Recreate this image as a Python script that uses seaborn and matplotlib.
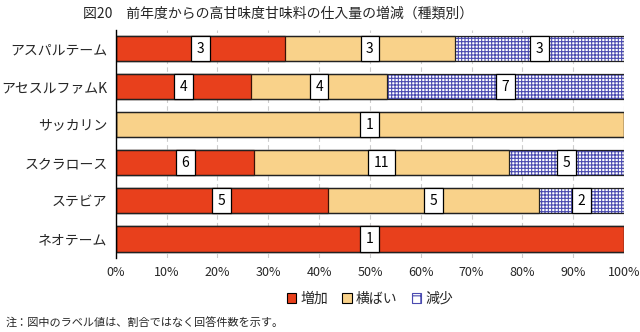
import matplotlib
matplotlib.use("Agg")
import matplotlib.pyplot as plt
import matplotlib.patches as mpatches
import numpy as np
import pandas as pd
import seaborn as sns

categories = ["アスパルテーム", "アセスルファムK", "サッカリン", "スクラロース", "ステビア", "ネオテーム"]
increase = [3, 4, 0, 6, 5, 1]
flat = [3, 4, 1, 11, 5, 0]
decrease = [3, 7, 0, 5, 2, 0]
series_names = ["増加", "横ばい", "減少"]
xticks = [0, 10, 20, 30, 40, 50, 60, 70, 80, 90, 100]
title = "図20　前年度からの高甘味度甘味料の仕入量の増減（種類別）"
note = "注：図中のラベル値は、割合ではなく回答件数を示す。"

RED = "#e8401c"
YEL = "#f9d28a"
BLUE = "#4a4ab0"

sns.set_theme(style="white")
plt.rcParams['font.family'] = ['Noto Sans CJK JP', 'DejaVu Sans']
plt.rcParams['hatch.linewidth'] = 0.8

inc = np.array(increase, float)
fl = np.array(flat, float)
de = np.array(decrease, float)
tot = inc + fl + de
p_inc = inc / tot * 100
p_fl = fl / tot * 100
p_de = de / tot * 100
cum1 = p_inc
cum2 = p_inc + p_fl
cum3 = cum2 + p_de

df = pd.DataFrame({"cat": categories, "c1": cum1, "c2": cum2, "c3": cum3})

fig = plt.figure(figsize=(6.4, 3.32), dpi=100)
ax = fig.add_axes([0.181, 0.223, 0.794, 0.687])

bw = 0.66
# decrease (hatched blue grid) as full bar
sns.barplot(data=df, x="c3", y="cat", ax=ax, color="white", edgecolor=BLUE,
            hatch="+++++", linewidth=0, width=bw, saturation=1, orient="h", zorder=2)
# outline of full bar
sns.barplot(data=df, x="c3", y="cat", ax=ax, fill=False, edgecolor="#222222",
            linewidth=0.9, width=bw, orient="h", zorder=5)
# flat
sns.barplot(data=df, x="c2", y="cat", ax=ax, color=YEL, edgecolor="#222222",
            linewidth=0.9, width=bw, saturation=1, orient="h", zorder=3)
# increase
sns.barplot(data=df, x="c1", y="cat", ax=ax, color=RED, edgecolor="#3a1208",
            linewidth=0.9, width=bw, saturation=1, orient="h", zorder=4)

# value labels
for i in range(len(categories)):
    starts = [0, cum1[i], cum2[i]]
    widths = [p_inc[i], p_fl[i], p_de[i]]
    counts = [increase[i], flat[i], decrease[i]]
    for s, w, c in zip(starts, widths, counts):
        if c > 0:
            ax.text(s + w / 2, i, str(c), ha="center", va="center", fontsize=10,
                    color="black", zorder=6,
                    bbox=dict(boxstyle="square,pad=0.4", fc="white", ec="black", lw=0.9))

ax.set_xlim(0, 100)
ax.set_ylim(5.5, -0.5)
ax.set_xticks(xticks)
ax.set_xticklabels([f"{t}%" for t in xticks], fontsize=9)
ax.tick_params(axis="y", labelsize=10, length=0, pad=6)
ax.tick_params(axis="x", length=0, pad=6)
ax.set_xlabel("")
ax.set_ylabel("")
ax.xaxis.grid(True, color="#cccccc", linestyle=(0, (4, 3)), linewidth=0.8, zorder=0)
ax.set_axisbelow(True)
for s in ["top", "right", "bottom"]:
    ax.spines[s].set_visible(False)
ax.spines["left"].set_color("black")
ax.spines["left"].set_linewidth(1.0)
ax.spines["left"].set_zorder(7)

fig.text(0.13, 0.96, title, fontsize=10, ha="left", va="center")

handles = [
    mpatches.Patch(facecolor=RED, edgecolor="black", linewidth=0.8, label=series_names[0]),
    mpatches.Patch(facecolor=YEL, edgecolor="black", linewidth=0.8, label=series_names[1]),
    mpatches.Patch(facecolor="white", edgecolor=BLUE, hatch="++", linewidth=0.8, label=series_names[2]),
]
fig.legend(handles=handles, loc="center", bbox_to_anchor=(0.578, 0.1), ncol=3,
           frameon=False, fontsize=10, handlelength=0.7, handleheight=0.7,
           handletextpad=0.3, columnspacing=1.0)

fig.text(0.008, 0.027, note, fontsize=8, ha="left", va="center")

fig.savefig("out.png", dpi=100)
